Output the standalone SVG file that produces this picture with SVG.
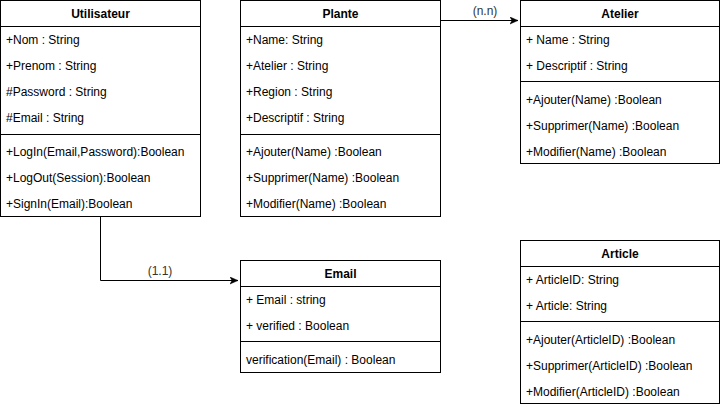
<svg xmlns="http://www.w3.org/2000/svg" width="721" height="408" viewBox="0 0 721 408">
<style>
.box{fill:#fff;stroke:#000;stroke-width:1}
.ln{stroke:#000;stroke-width:1;fill:none}
text{font-family:"Liberation Sans",Arial,sans-serif;font-size:12px;fill:#000}
.t{font-weight:bold;text-anchor:middle}
.lbl{fill:#333;text-anchor:middle}
</style>
<defs>
<marker id="arr" markerWidth="10" markerHeight="10" refX="8" refY="4" orient="auto" markerUnits="userSpaceOnUse">
<path d="M0,0.5 L8,4 L0,7.5 L2,4 Z" fill="#000" stroke="#000" stroke-width="0.5"/>
</marker>
</defs>
<g id="connectors">
<path class="ln" d="M440.5,20.5 H518" marker-end="url(#arr)"/>
<text class="lbl" x="485" y="15">(n.n)</text>
<path class="ln" d="M100.5,216 V280.5 H238" marker-end="url(#arr)"/>
<text class="lbl" x="160" y="275">(1.1)</text>
</g>
<g id="utilisateur">
<rect class="box" x="0.5" y="0.5" width="200" height="216"/>
<line class="ln" x1="0.5" y1="26.5" x2="200.5" y2="26.5"/>
<line class="ln" x1="0.5" y1="134.5" x2="200.5" y2="134.5"/>
<text class="t" x="100.5" y="18">Utilisateur</text>
<text x="6" y="44">+Nom : String</text>
<text x="6" y="70">+Prenom : String</text>
<text x="6" y="96">#Password : String</text>
<text x="6" y="122">#Email : String</text>
<text x="6" y="156">+LogIn(Email,Password):Boolean</text>
<text x="6" y="182">+LogOut(Session):Boolean</text>
<text x="6" y="208">+SignIn(Email):Boolean</text>
</g>
<g id="plante">
<rect class="box" x="240.5" y="0.5" width="200" height="216"/>
<line class="ln" x1="240.5" y1="26.5" x2="440.5" y2="26.5"/>
<line class="ln" x1="240.5" y1="134.5" x2="440.5" y2="134.5"/>
<text class="t" x="340.5" y="18">Plante</text>
<text x="246" y="44">+Name: String</text>
<text x="246" y="70">+Atelier : String</text>
<text x="246" y="96">+Region : String</text>
<text x="246" y="122">+Descriptif : String</text>
<text x="246" y="156">+Ajouter(Name) :Boolean</text>
<text x="246" y="182">+Supprimer(Name) :Boolean</text>
<text x="246" y="208">+Modifier(Name) :Boolean</text>
</g>
<g id="atelier">
<rect class="box" x="520.5" y="0.5" width="199" height="163"/>
<line class="ln" x1="520.5" y1="26.5" x2="719.5" y2="26.5"/>
<line class="ln" x1="520.5" y1="81.5" x2="719.5" y2="81.5"/>
<text class="t" x="620" y="18">Atelier</text>
<text x="526" y="44">+ Name : String</text>
<text x="526" y="70">+ Descriptif : String</text>
<text x="526" y="104">+Ajouter(Name) :Boolean</text>
<text x="526" y="130">+Supprimer(Name) :Boolean</text>
<text x="526" y="156">+Modifier(Name) :Boolean</text>
</g>
<g id="email">
<rect class="box" x="240.5" y="260.5" width="200" height="112"/>
<line class="ln" x1="240.5" y1="286.5" x2="440.5" y2="286.5"/>
<line class="ln" x1="240.5" y1="341.5" x2="440.5" y2="341.5"/>
<text class="t" x="340.5" y="278">Email</text>
<text x="246" y="304">+ Email : string</text>
<text x="246" y="330">+ verified : Boolean</text>
<text x="246" y="364">verification(Email) : Boolean</text>
</g>
<g id="article">
<rect class="box" x="520.5" y="240.5" width="199" height="163"/>
<line class="ln" x1="520.5" y1="266.5" x2="719.5" y2="266.5"/>
<line class="ln" x1="520.5" y1="321.5" x2="719.5" y2="321.5"/>
<text class="t" x="620" y="258">Article</text>
<text x="526" y="284">+ ArticleID: String</text>
<text x="526" y="310">+ Article: String</text>
<text x="526" y="344">+Ajouter(ArticleID) :Boolean</text>
<text x="526" y="370">+Supprimer(ArticleID) :Boolean</text>
<text x="526" y="396">+Modifier(ArticleID) :Boolean</text>
</g>
</svg>
